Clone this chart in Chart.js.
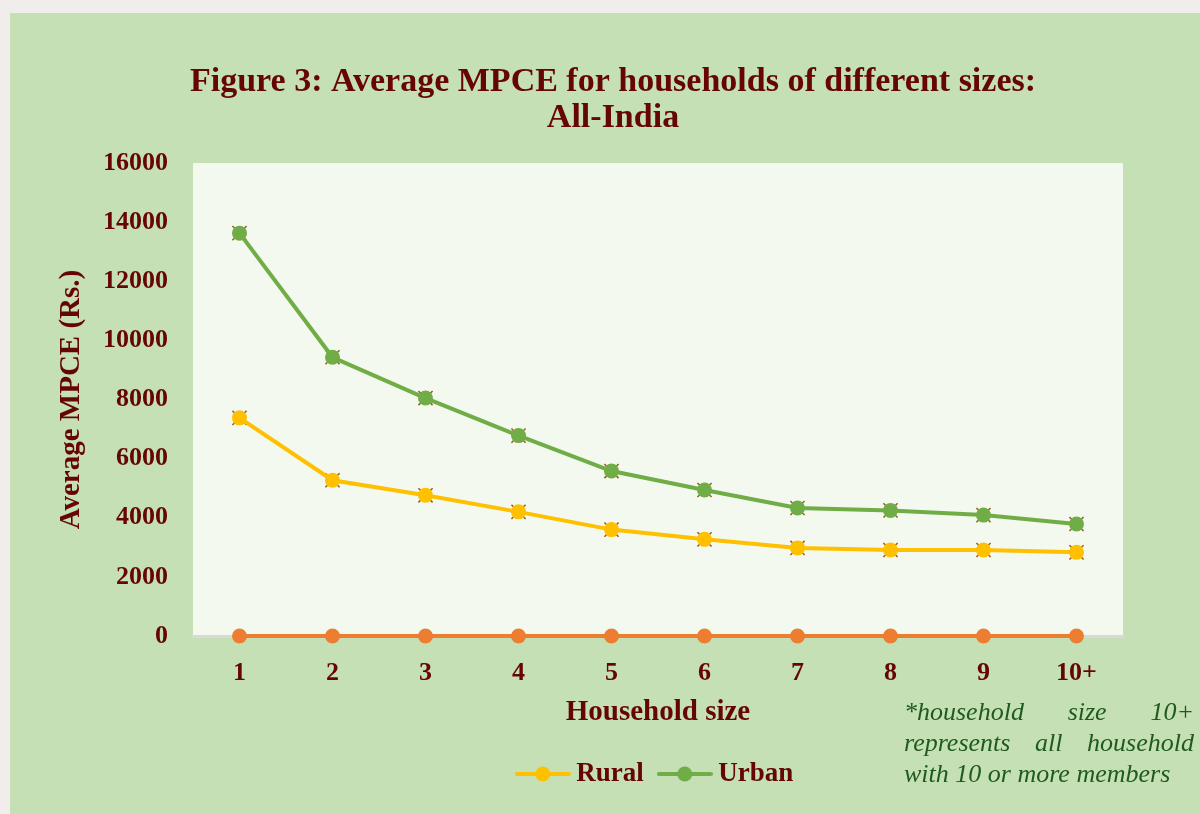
<!DOCTYPE html>
<html>
<head>
<meta charset="utf-8">
<script src="https://cdn.jsdelivr.net/npm/chart.js@4.4.1/dist/chart.umd.min.js"></script>
<style>
    html, body { margin: 0; padding: 0; }
    body { width: 1200px; height: 814px; background: #f1edea; position: relative; overflow: hidden; }
    #panel { position: absolute; left: 10px; top: 13px; width: 1190px; height: 801px; background: #c5e0b5; }
    #grafico { position: absolute; left: 0; top: 0; }
    #nota {
        position: absolute; left: 894px; top: 683px; width: 290px;
        font-family: 'Liberation Serif', serif; font-style: italic; font-size: 26px; line-height: 31px;
        color: #1f5a1f; text-align: justify; text-align-last: left;
    }
</style>
</head>
<body>
<div id="panel">
    <canvas id="grafico" width="1190" height="801"></canvas>
    <div id="nota">*household size 10+ represents all household with 10 or more members</div>
</div>
<script>
// Datos
const tamanos = ['1', '2', '3', '4', '5', '6', '7', '8', '9', '10+'];
const rural = [7380, 5270, 4760, 4200, 3600, 3270, 2980, 2910, 2910, 2830];
const urbano = [13630, 9430, 8050, 6780, 5580, 4940, 4330, 4250, 4090, 3790];
const base = [0, 0, 0, 0, 0, 0, 0, 0, 0, 0];
const ticksY = [0, 2000, 4000, 6000, 8000, 10000, 12000, 14000, 16000];

const colorTexto = '#650505';
const fuente = 'Liberation Serif';

// Fondo del área del gráfico
const fondoArea = {
    id: 'fondoArea',
    beforeDraw(chart) {
        const { ctx, chartArea } = chart;
        ctx.save();
        ctx.fillStyle = '#f3f9ef';
        ctx.fillRect(chartArea.left, chartArea.top, chartArea.right - chartArea.left, chartArea.bottom - chartArea.top);
        ctx.restore();
    }
};

// Icono de leyenda: línea con círculo
function iconoLeyenda(color) {
    const c = document.createElement('canvas');
    c.width = 56;
    c.height = 18;
    const g = c.getContext('2d');
    g.strokeStyle = color;
    g.lineWidth = 4;
    g.lineCap = 'round';
    g.beginPath();
    g.moveTo(2, 9);
    g.lineTo(54, 9);
    g.stroke();
    g.fillStyle = color;
    g.beginPath();
    g.arc(28, 9, 7.5, 0, Math.PI * 2);
    g.fill();
    return c;
}

function serie(label, data, color) {
    return {
        label: label,
        data: data,
        borderColor: color,
        backgroundColor: color,
        borderWidth: 4,
        pointRadius: 7.5,
        pointBorderWidth: 0,
        pointBackgroundColor: color,
        pointStyle: 'circle',
        tension: 0,
        clip: false,
        order: 1
    };
}

function cruces(data) {
    return {
        label: '_x',
        data: data,
        showLine: false,
        pointStyle: 'crossRot',
        pointRadius: 10,
        pointBorderWidth: 1.5,
        pointBorderColor: '#9a5a1a',
        borderColor: '#9a5a1a',
        clip: false,
        order: 5
    };
}

const iconos = { 'Rural': iconoLeyenda('#ffc000'), 'Urban': iconoLeyenda('#70ad47') };

new Chart(document.getElementById('grafico').getContext('2d'), {
    type: 'line',
    data: {
        labels: tamanos,
        datasets: [
            serie('Rural', rural, '#ffc000'),
            serie('Urban', urbano, '#70ad47'),
            serie('_base', base, '#ed7d31'),
            cruces(rural),
            cruces(urbano)
        ]
    },
    options: {
        responsive: false,
        animation: false,
        layout: { padding: { top: 51, right: 0, bottom: 16.5, left: 16 } },
        plugins: {
            tooltip: { enabled: false },
            title: {
                display: true,
                text: ['Figure 3: Average MPCE for households of different sizes:', 'All-India'],
                color: colorTexto,
                font: { family: fuente, size: 34, weight: 'bold', lineHeight: 1.06 },
                padding: { top: 0, bottom: 27 }
            },
            legend: {
                position: 'bottom',
                fullSize: false,
                labels: {
                    usePointStyle: true,
                    pointStyleWidth: 40,
                    boxHeight: 18,
                    color: colorTexto,
                    font: { family: fuente, size: 27, weight: 'bold' },
                    padding: 21,
                    generateLabels(chart) {
                        return ['Rural', 'Urban'].map((t, i) => ({
                            text: t,
                            pointStyle: iconos[t],
                            datasetIndex: i,
                            fontColor: colorTexto,
                            lineWidth: 0,
                            hidden: false
                        }));
                    }
                }
            }
        },
        scales: {
            x: {
                offset: true,
                afterFit(scale) { scale.height = 103.5; },
                grid: { display: false, drawTicks: false },
                border: { display: true, color: '#d9d9d9', width: 3 },
                ticks: {
                    color: colorTexto,
                    font: { family: fuente, size: 26, weight: 'bold' },
                    padding: 22
                },
                title: {
                    display: true,
                    text: 'Household size',
                    color: colorTexto,
                    font: { family: fuente, size: 29, weight: 'bold', lineHeight: 1 },
                    padding: { top: 0, bottom: 12 }
                }
            },
            y: {
                min: 0,
                max: 16000,
                afterFit(scale) { scale.width = 167; },
                afterBuildTicks(scale) { scale.ticks = ticksY.map(v => ({ value: v })); },
                grid: { display: false, drawTicks: false },
                border: { display: false },
                ticks: {
                    color: colorTexto,
                    font: { family: fuente, size: 26, weight: 'bold' },
                    padding: 25,
                    callback: v => String(v)
                },
                title: {
                    display: true,
                    text: 'Average MPCE (Rs.)',
                    color: colorTexto,
                    font: { family: fuente, size: 29, weight: 'bold' },
                    padding: { top: 28, bottom: 0 }
                }
            },
            // eje vacío para dejar el margen derecho
            margen: {
                type: 'linear',
                position: 'right',
                afterFit(scale) { scale.width = 77; },
                grid: { display: false, drawTicks: false },
                border: { display: false },
                ticks: { display: false }
            }
        }
    },
    plugins: [fondoArea]
});
</script>
</body>
</html>
